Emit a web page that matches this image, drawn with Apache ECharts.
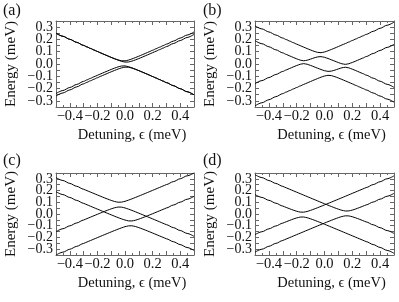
<!DOCTYPE html>
<html><head><meta charset="utf-8">
<script src="https://cdn.jsdelivr.net/npm/echarts@6/dist/echarts.min.js"></script>
<style>html,body{margin:0;padding:0;background:#fff}#c{width:399px;height:302px}</style>
</head><body><div id="c"></div>
<script>
// Detuning samples (meV)
const EPS = [-0.5,-0.45,-0.4,-0.35,-0.3,-0.275,-0.25,-0.225,-0.2,-0.175,-0.15,-0.125,-0.1,-0.075,-0.05,-0.025,0,0.025,0.05,0.075,0.1,0.125,0.15,0.175,0.2,0.225,0.25,0.275,0.3,0.35,0.4,0.45,0.5];
const X_TICKS = [-0.4,-0.2,0,0.2,0.4];
const Y_TICKS = [-0.3,-0.2,-0.1,0,0.1,0.2,0.3];
const PANEL_LABELS = ['(a)','(b)','(c)','(d)'];
const X_TITLE = 'Detuning, \u03f5 (meV)';
const Y_TITLE = 'Energy (meV)';

// Panel (a) energies (meV)
const A1 = [0.2508,0.2259,0.2010,0.1762,0.1514,0.1390,0.1267,0.1143,0.1021,0.0899,0.0778,0.0659,0.0542,0.0432,0.0333,0.0264,0.0256,0.0316,0.0411,0.0520,0.0635,0.0754,0.0875,0.0996,0.1119,0.1242,0.1365,0.1489,0.1613,0.1861,0.2110,0.2359,0.2608];
const A2 = [0.2508,0.2259,0.2010,0.1761,0.1513,0.1389,0.1265,0.1142,0.1019,0.0896,0.0775,0.0654,0.0535,0.0420,0.0311,0.0216,0.0156,0.0164,0.0233,0.0332,0.0442,0.0559,0.0678,0.0799,0.0921,0.1043,0.1167,0.1290,0.1414,0.1662,0.1910,0.2159,0.2408];
const A3 = [-0.2408,-0.2159,-0.1910,-0.1662,-0.1414,-0.1290,-0.1167,-0.1043,-0.0921,-0.0799,-0.0678,-0.0559,-0.0442,-0.0332,-0.0233,-0.0164,-0.0156,-0.0216,-0.0311,-0.0420,-0.0535,-0.0654,-0.0775,-0.0896,-0.1019,-0.1142,-0.1265,-0.1389,-0.1513,-0.1761,-0.2010,-0.2259,-0.2508];
const A4 = [-0.2608,-0.2359,-0.2110,-0.1861,-0.1613,-0.1489,-0.1365,-0.1242,-0.1119,-0.0996,-0.0875,-0.0754,-0.0635,-0.0520,-0.0411,-0.0316,-0.0256,-0.0264,-0.0333,-0.0432,-0.0542,-0.0659,-0.0778,-0.0899,-0.1021,-0.1143,-0.1267,-0.1390,-0.1514,-0.1762,-0.2010,-0.2259,-0.2508];

// Panel (b)
const B1 = [0.3106,0.2857,0.2608,0.2359,0.2111,0.1987,0.1863,0.1740,0.1617,0.1495,0.1374,0.1255,0.1139,0.1032,0.0947,0.0922,0.0977,0.1073,0.1185,0.1302,0.1422,0.1544,0.1666,0.1789,0.1913,0.2036,0.2160,0.2285,0.2409,0.2658,0.2907,0.3156,0.3405];
const B2 = [0.1902,0.1652,0.1402,0.1153,0.0904,0.0780,0.0658,0.0536,0.0420,0.0315,0.0262,0.0307,0.0400,0.0497,0.0578,0.0601,0.0546,0.0450,0.0340,0.0228,0.0117,0.0018,-0.0030,0.0021,0.0124,0.0240,0.0361,0.0483,0.0606,0.0854,0.1103,0.1352,0.1603];
const B3 = [-0.1603,-0.1352,-0.1103,-0.0854,-0.0606,-0.0483,-0.0361,-0.0240,-0.0124,-0.0021,0.0030,-0.0018,-0.0117,-0.0228,-0.0340,-0.0450,-0.0546,-0.0601,-0.0578,-0.0497,-0.0400,-0.0307,-0.0262,-0.0315,-0.0420,-0.0536,-0.0658,-0.0780,-0.0904,-0.1153,-0.1402,-0.1652,-0.1902];
const B4 = [-0.3405,-0.3156,-0.2907,-0.2658,-0.2409,-0.2285,-0.2160,-0.2036,-0.1913,-0.1789,-0.1666,-0.1544,-0.1422,-0.1302,-0.1185,-0.1073,-0.0977,-0.0922,-0.0947,-0.1032,-0.1139,-0.1255,-0.1374,-0.1495,-0.1617,-0.1740,-0.1863,-0.1987,-0.2111,-0.2359,-0.2608,-0.2857,-0.3106];

// Panel (c)
const C1 = [0.3109,0.2860,0.2611,0.2363,0.2115,0.1992,0.1869,0.1746,0.1625,0.1504,0.1385,0.1270,0.1161,0.1066,0.1006,0.1014,0.1083,0.1182,0.1292,0.1409,0.1528,0.1649,0.1771,0.1893,0.2017,0.2140,0.2264,0.2388,0.2512,0.2760,0.3009,0.3258,0.3507];
const C2 = [-0.1509,-0.1260,-0.1011,-0.0763,-0.0515,-0.0392,-0.0269,-0.0146,-0.0025,0.0096,0.0215,0.0330,0.0439,0.0534,0.0594,0.0586,0.0517,0.0418,0.0308,0.0191,0.0072,-0.0049,-0.0171,-0.0293,-0.0417,-0.0540,-0.0664,-0.0788,-0.0912,-0.1160,-0.1409,-0.1658,-0.1907];
const C3 = [0.1907,0.1658,0.1409,0.1160,0.0912,0.0788,0.0664,0.0540,0.0417,0.0293,0.0171,0.0049,-0.0072,-0.0191,-0.0308,-0.0418,-0.0517,-0.0586,-0.0594,-0.0534,-0.0439,-0.0330,-0.0215,-0.0096,0.0025,0.0146,0.0269,0.0392,0.0515,0.0763,0.1011,0.1260,0.1509];
const C4 = [-0.3507,-0.3258,-0.3009,-0.2760,-0.2512,-0.2388,-0.2264,-0.2140,-0.2017,-0.1893,-0.1771,-0.1649,-0.1528,-0.1409,-0.1292,-0.1182,-0.1083,-0.1014,-0.1006,-0.1066,-0.1161,-0.1270,-0.1385,-0.1504,-0.1625,-0.1746,-0.1869,-0.1992,-0.2115,-0.2363,-0.2611,-0.2860,-0.3109];

// Panel (d)
const D1 = [0.3356,0.3107,0.2857,0.2608,0.2359,0.2234,0.2110,0.1985,0.1861,0.1737,0.1613,0.1489,0.1365,0.1242,0.1119,0.0996,0.0875,0.0754,0.0635,0.0520,0.0411,0.0316,0.0256,0.0264,0.0333,0.0432,0.0542,0.0659,0.0778,0.1021,0.1267,0.1514,0.1762];
const D2 = [-0.3256,-0.3007,-0.2757,-0.2508,-0.2259,-0.2134,-0.2010,-0.1885,-0.1761,-0.1637,-0.1513,-0.1389,-0.1265,-0.1142,-0.1019,-0.0896,-0.0775,-0.0654,-0.0535,-0.0420,-0.0311,-0.0216,-0.0156,-0.0164,-0.0233,-0.0332,-0.0442,-0.0559,-0.0678,-0.0921,-0.1167,-0.1414,-0.1662];
const D3 = [0.1662,0.1414,0.1167,0.0921,0.0678,0.0559,0.0442,0.0332,0.0233,0.0164,0.0156,0.0216,0.0311,0.0420,0.0535,0.0654,0.0775,0.0896,0.1019,0.1142,0.1265,0.1389,0.1513,0.1637,0.1761,0.1885,0.2010,0.2134,0.2259,0.2508,0.2757,0.3007,0.3256];
const D4 = [-0.1762,-0.1514,-0.1267,-0.1021,-0.0778,-0.0659,-0.0542,-0.0432,-0.0333,-0.0264,-0.0256,-0.0316,-0.0411,-0.0520,-0.0635,-0.0754,-0.0875,-0.0996,-0.1119,-0.1242,-0.1365,-0.1489,-0.1613,-0.1737,-0.1861,-0.1985,-0.2110,-0.2234,-0.2359,-0.2608,-0.2857,-0.3107,-0.3356];

const PANEL_SERIES = [[A1,A2,A3,A4],[B1,B2,B3,B4],[C1,C2,C3,C4],[D1,D2,D3,D4]];

// ---- layout / style ----
const FONT = '"Liberation Serif","Times New Roman",serif';
const FRAME = '#666';
const TXT = '#111';
const GRIDS = [
  {left:56, top:21, width:138, height:86},
  {left:255, top:21, width:139, height:86},
  {left:56, top:173, width:138, height:82},
  {left:255, top:173, width:139, height:82}
];
const LABEL_POS = [[3,3],[203,3],[3,153],[203,153]];

function fmt(v, ticks){
  for (const t of ticks){ if (Math.abs(v - t) < 1e-6){ const s = Math.abs(t).toFixed(1); return (t < -1e-9 ? '\u2212' : '') + s; } }
  return '';
}

const xAxes = [], yAxes = [], series = [], graphic = [];
GRIDS.forEach((g, i) => {
  const common = {gridIndex:i, type:'value', splitLine:{show:false},
    axisLine:{show:true, onZero:false, lineStyle:{color:FRAME, width:1}},
    axisTick:{show:true, inside:true, length:4, lineStyle:{color:FRAME}},
    minorTick:{show:true, splitNumber:2, length:2, lineStyle:{color:FRAME}}};
  xAxes.push(Object.assign({}, common, {min:-0.5, max:0.5, interval:0.1, position:'bottom',
    axisLabel:{formatter:v=>fmt(v, X_TICKS), margin:2, fontFamily:FONT, fontSize:14.5, color:TXT, showMinLabel:true, showMaxLabel:true},
    name:X_TITLE, nameLocation:'middle', nameGap:21,
    nameTextStyle:{fontFamily:FONT, fontSize:14.5, color:TXT, padding:[0,0,0,14]}}));
  xAxes.push(Object.assign({}, common, {min:-0.5, max:0.5, interval:0.1, position:'top', axisLabel:{show:false}}));
  yAxes.push(Object.assign({}, common, {min:-0.35, max:0.35, interval:0.05, position:'left',
    minorTick:{show:false},
    axisLabel:{formatter:v=>fmt(v, Y_TICKS), margin:3, fontFamily:FONT, fontSize:14, color:TXT},
    name:Y_TITLE, nameLocation:'middle', nameRotate:90, nameGap:37,
    nameTextStyle:{fontFamily:FONT, fontSize:15, color:TXT}}));
  yAxes.push(Object.assign({}, common, {min:-0.35, max:0.35, interval:0.05, position:'right', minorTick:{show:false}, axisLabel:{show:false}}));
  PANEL_SERIES[i].forEach(arr => {
    series.push({type:'line', xAxisIndex:2*i, yAxisIndex:2*i, showSymbol:false, silent:true,
      smooth:0.3, smoothMonotone:'x', clip:true,
      lineStyle:{color:'#000', width:1},
      data: EPS.map((x,k)=>[x, arr[k]])});
  });
  graphic.push({type:'text', left:LABEL_POS[i][0], top:LABEL_POS[i][1],
    style:{text:PANEL_LABELS[i], font:'16px ' + FONT, fill:TXT}});
});

const chart = echarts.init(document.getElementById('c'), null, {renderer:'canvas'});
chart.setOption({animation:false, backgroundColor:'#fff', grid:GRIDS, xAxis:xAxes, yAxis:yAxes, series, graphic});
</script></body></html>
